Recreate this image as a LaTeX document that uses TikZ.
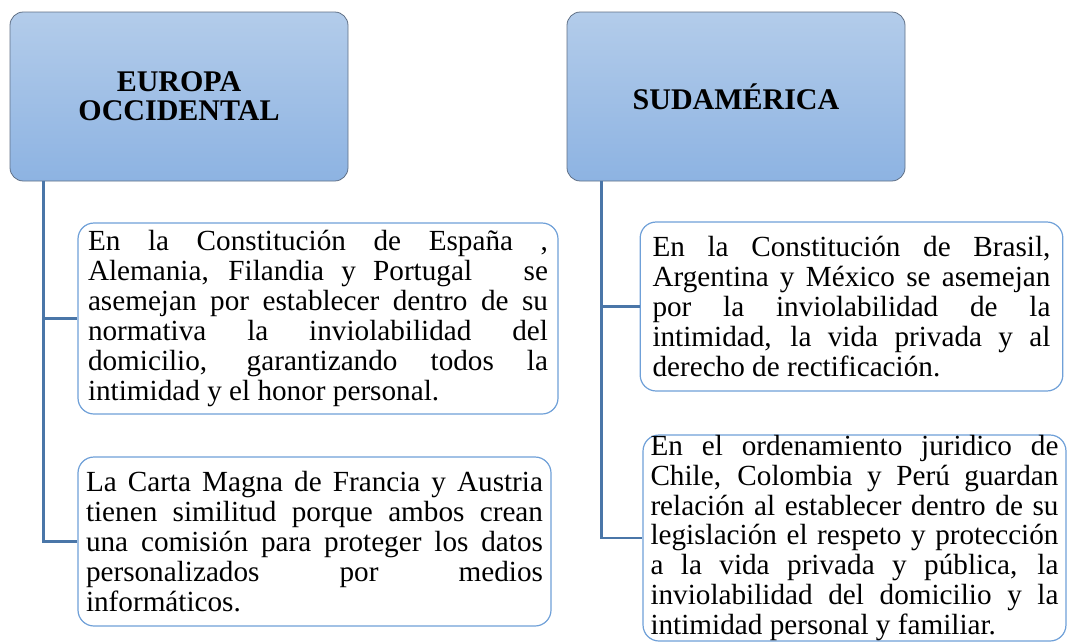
\documentclass[tikz,border=0pt]{standalone}
\usepackage{fontspec}
\setmainfont{Liberation Serif}
\usepackage{xcolor}
\usetikzlibrary{positioning}

\definecolor{headtop}{HTML}{B3CCEA}
\definecolor{headbot}{HTML}{8DB3E2}
\definecolor{headline}{HTML}{5F6F85}
\definecolor{boxblue}{HTML}{6FA0D8}
\definecolor{linkblue}{HTML}{4A76A8}

\tolerance=10000
\hbadness=10000

\begin{document}
\begin{tikzpicture}[
        x=0.75pt, y=-0.75pt,
        region/.style={rectangle, rounded corners=10pt, draw=headline, line width=0.6pt,
            top color=headtop, bottom color=headbot,
            minimum width=253.5pt, minimum height=126.75pt, align=center,
            font=\fontsize{22.5}{21.5}\selectfont\bfseries},
        info/.style={rectangle, rounded corners=12pt, draw=boxblue, line width=0.9pt,
            fill=white, inner ysep=0pt, align=justify,
            font=\fontsize{21.9}{22.4}\selectfont},
        conn/.style={draw=linkblue, line width=2.2pt}
    ]
        \useasboundingbox (0,0) rectangle (1068,643);

        % region headers
        \node[region] (europa) at (179,96.5) {EUROPA\\OCCIDENTAL};
        \node[region] (sudam) at (736,96.5) {SUDAMÉRICA};

        % Europa occidental
        \node[info, text width=345pt, inner xsep=7.5pt, minimum height=143.25pt] (eu1) at (318,318.5) {%
            En la Constitución de España ,\linebreak
            Alemania, Filandia y Portugal\ \ \ se\linebreak
            asemejan por establecer dentro de su\linebreak
            normativa la inviolabilidad del\linebreak
            domicilio, garantizando todos la\linebreak
            intimidad y el honor personal.};
        \node[info, text width=342.75pt, inner xsep=6pt, minimum height=126.75pt] (eu2) at (314.5,541.5) {%
            La Carta Magna de Francia y Austria\linebreak
            tienen similitud porque ambos crean\linebreak
            una comisión para proteger los datos\linebreak
            personalizados por medios\linebreak
            informáticos.};

        % Sudamerica
        \node[info, text width=298.5pt, inner xsep=9.25pt, minimum height=126.75pt] (sa1) at (851.5,306.5) {%
            En la Constitución de Brasil,\linebreak
            Argentina y México se asemejan\linebreak
            por la inviolabilidad de la\linebreak
            intimidad, la vida privada y al\linebreak
            derecho de rectificación.};
        \node[info, text width=306pt, inner xsep=5.6pt, minimum height=154.5pt] (sa2) at (854.5,538) {%
            En el ordenamiento juridico de\linebreak
            Chile, Colombia y Perú guardan\linebreak
            relación al establecer dentro de su\linebreak
            legislación el respeto y protección\linebreak
            a la vida privada y pública, la\linebreak
            inviolabilidad del domicilio y la\linebreak
            intimidad personal y familiar.};

        % connectors
        \draw[conn] ([xshift=25.5pt]europa.south west) |- (eu1.west);
        \draw[conn] ([xshift=25.5pt]europa.south west) |- (eu2.west);
        \draw[conn] ([xshift=26.25pt]sudam.south west) |- (sa1.west);
        \draw[conn] ([xshift=26.25pt]sudam.south west) |- (sa2.west);
    \end{tikzpicture}
\end{document}
